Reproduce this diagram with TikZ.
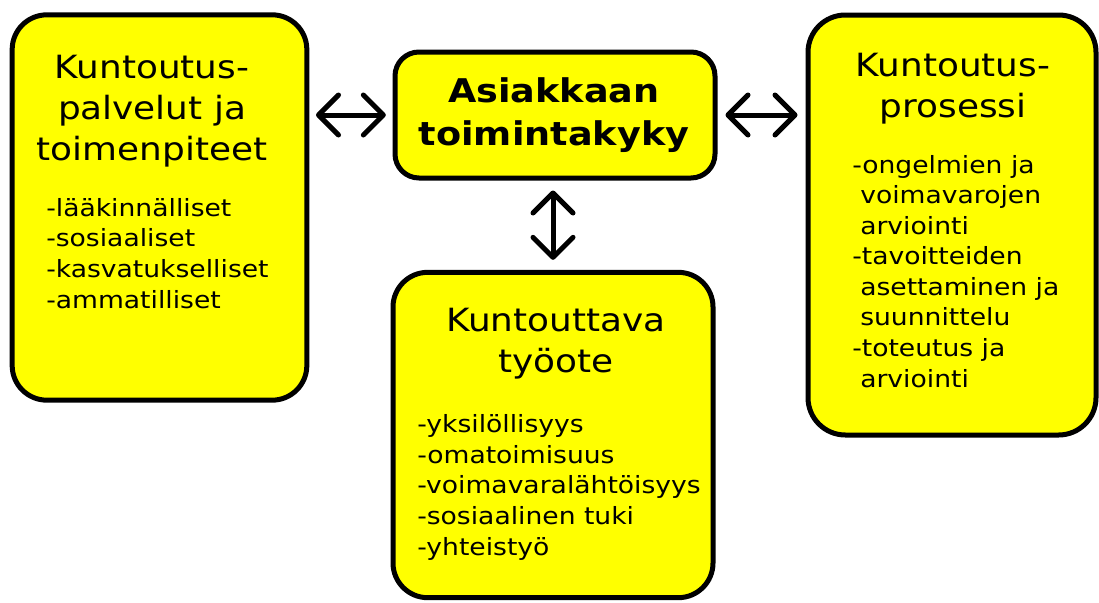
\documentclass[tikz,border=0pt]{standalone}
\usepackage{fontspec}
\setmainfont{DejaVu Sans}[FakeStretch=1.12]
\usetikzlibrary{arrows.meta}
\definecolor{boxyellow}{RGB}{255,255,0}
\tikzset{
  box/.style={draw=black, line width=3.75pt, fill=boxyellow, inner sep=0pt},
  title/.style={anchor=base, align=center, inner sep=0pt, font=\fontsize{24}{30.75}\selectfont},
  btitle/.style={anchor=base, align=center, inner sep=0pt, font=\fontsize{24.5}{32.25}\selectfont\bfseries},
  items/.style={anchor=base west, align=left, inner sep=0pt, font=\fontsize{17.8}{22.9}\selectfont},
  link/.style={line width=3.75pt, line cap=round, {Straight Barb[length=15pt,width=30pt,round]}-{Straight Barb[length=15pt,width=30pt,round]}}
}
\begin{document}
\begin{tikzpicture}[x=0.75pt,y=-0.75pt]
\useasboundingbox (0,0) rectangle (1099,603);
% boxes
\node[box, rounded corners=26pt, minimum width=221pt, minimum height=289pt] (left) at (159.5,207.5) {};
\node[box, rounded corners=18pt, minimum width=240pt, minimum height=94.5pt] (center) at (555,115) {};
\node[box, rounded corners=26pt, minimum width=240pt, minimum height=244pt] (bottom) at (553,435) {};
\node[box, rounded corners=28pt, minimum width=216pt, minimum height=315pt] (right) at (952,225) {};
% texts (anchor base = baseline of the last line)
\node[title] (ltitle) at (152,160) {Kuntoutus-\\palvelut ja\\toimenpiteet};
\node[items] (llist) at (46,308) {-lääkinnälliset\\-sosiaaliset\\-kasvatukselliset\\-ammatilliset};
\node[btitle] (ctitle) at (554,145) {Asiakkaan\\toimintakyky};
\node[title] (btitletext) at (556,372) {Kuntouttava\\työote};
\node[items] (blist) at (417,555) {-yksilöllisyys\\-omatoimisuus\\-voimavaralähtöisyys\\-sosiaalinen tuki\\-yhteistyö};
\node[title] (rtitle) at (953,117) {Kuntoutus-\\prosessi};
\node[items] (rlist) at (852,387) {-ongelmien ja\\\hspace*{6pt}voimavarojen\\\hspace*{6pt}arviointi\\-tavoitteiden\\\hspace*{6pt}asettaminen ja\\\hspace*{6pt}suunnittelu\\-toteutus ja\\\hspace*{6pt}arviointi};
% connectors
\draw[link, shorten <=5pt, shorten >=5pt] (left.east |- center.west) -- (center.west);
\draw[link, shorten <=6pt, shorten >=6pt] (center.east) -- (right.west |- center.east);
\draw[link, shorten <=7.5pt, shorten >=7.5pt] (center.south -| bottom.north) -- (bottom.north);
\end{tikzpicture}
\end{document}
